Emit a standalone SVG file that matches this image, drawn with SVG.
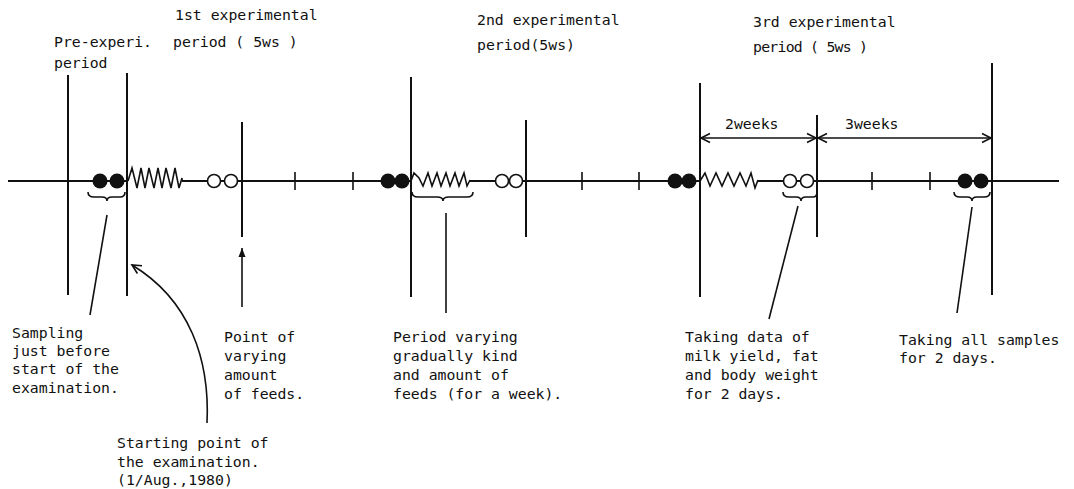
<svg xmlns="http://www.w3.org/2000/svg" width="1074" height="489" viewBox="0 0 1074 489">
<style>
text{font-family:"DejaVu Sans Mono","Liberation Mono",monospace;font-size:14.8px;fill:#111}
.ln{stroke:#111;stroke-width:2;fill:none}
.th{stroke:#111;stroke-width:1.6;fill:none}
.dot{fill:#111}
.ring{fill:#fff;stroke:#111;stroke-width:1.6}
</style>
<defs>
<marker id="open" viewBox="-10 -6 12 12" refX="0" refY="0" markerWidth="12" markerHeight="12" markerUnits="userSpaceOnUse" orient="auto-start-reverse">
<path d="M-9,-4.5 L0,0 L-9,4.5" fill="none" stroke="#111" stroke-width="1.6"/>
</marker>
<marker id="fill" viewBox="-10 -6 12 12" refX="0" refY="0" markerWidth="12" markerHeight="12" markerUnits="userSpaceOnUse" orient="auto">
<path d="M-9,-3.5 L0,0 L-9,3.5 Z" fill="#111"/>
</marker>
</defs>
<rect width="1074" height="489" fill="#fff"/>

<g id="timeline">
<path class="ln" d="M8,181 H128 M182,181 H411 M470,181 H700 M758,181 H1059"/>
<path class="th" d="M128,181 L132,168 L137,188 L141,168 L145,188 L149,168 L154,188 L158,168 L162,188 L166,168 L171,188 L175,168 L179,188 L182,178 L182,181"/>
<path class="th" d="M411,181 L414,173 L419,178 L423,186 L428,173 L432,186 L437,173 L441,186 L446,173 L450,186 L455,173 L459,186 L464,173 L467,186 L470,180"/>
<path class="th" d="M700,181 L705,173 L710,186 L716,173 L722,186 L728,173 L734,186 L740,173 L746,186 L751,173 L755,188 L758,180"/>
<path class="th" d="M295,172 V190 M353,172 V190 M582,172 V190 M639,172 V190 M872,172 V190 M930,172 V190"/>
</g>

<g id="boundaries">
<path class="ln" d="M68,75 V295"/>
<path class="ln" d="M127,73 V296"/>
<path class="ln" d="M242,122 V237"/>
<path class="ln" d="M411,77 V297"/>
<path class="ln" d="M526,120 V237"/>
<path class="ln" d="M700,83 V297"/>
<path class="ln" d="M817,115 V237"/>
<path class="ln" d="M992,63 V295"/>
</g>

<g id="samples">
<circle class="dot" cx="100" cy="181" r="7.5"/><circle class="dot" cx="117" cy="181" r="7.5"/>
<circle class="dot" cx="388" cy="181" r="7.5"/><circle class="dot" cx="402" cy="181" r="7.5"/>
<circle class="dot" cx="675" cy="181" r="7.5"/><circle class="dot" cx="689" cy="181" r="7.5"/>
<circle class="dot" cx="965" cy="181" r="7.5"/><circle class="dot" cx="981" cy="181" r="7.5"/>
<circle class="ring" cx="214" cy="181" r="6.5"/><circle class="ring" cx="231" cy="181" r="6.5"/>
<circle class="ring" cx="502" cy="181" r="6.5"/><circle class="ring" cx="516" cy="181" r="6.5"/>
<circle class="ring" cx="790" cy="181" r="6.5"/><circle class="ring" cx="807" cy="181" r="6.5"/>
</g>

<g id="braces">
<path class="th" d="M88,192 Q88,197 94,197 H102 Q107,197 107,201 Q107,197 112,197 H120 Q125,197 125,192"/>
<path class="th" d="M412,192 Q412,197 418,197 H437 Q443,197 443,201 Q443,197 449,197 H467 Q473,197 473,192"/>
<path class="th" d="M783,192 Q783,197 789,197 H796 Q801,197 801,201 Q801,197 806,197 H813 Q817,197 817,192"/>
<path class="th" d="M954,192 Q954,197 960,197 H967 Q972,197 972,201 Q972,197 977,197 H984 Q990,197 990,192"/>
</g>

<g id="connectors">
<path class="th" d="M107,215 L90,315"/>
<path class="th" d="M446,213 V313"/>
<path class="th" d="M798,206 L769,319"/>
<path class="th" d="M972,207 L957,313"/>
<path class="th" d="M242,307 V248" marker-end="url(#fill)"/>
<path class="th" d="M207,423 C210,360 190,300 132,265" marker-end="url(#open)"/>
<path class="th" d="M701,138 H816" marker-start="url(#open)" marker-end="url(#open)"/>
<path class="th" d="M818,138 H991" marker-start="url(#open)" marker-end="url(#open)"/>
</g>

<g id="period-labels">
<g id="pre"><text x="54" y="47">Pre-experi.</text><text x="54" y="68">period</text></g>
<g id="p1"><text x="175" y="20">1st experimental</text><text x="173" y="47">period ( 5ws )</text></g>
<g id="p2"><text x="477" y="25">2nd experimental</text><text x="477" y="50">period(5ws)</text></g>
<g id="p3"><text x="753" y="27">3rd experimental</text><text x="753" y="52" textLength="115">period ( 5ws )</text></g>
<g id="w2"><text x="725" y="129">2weeks</text></g>
<g id="w3"><text x="845" y="129">3weeks</text></g>
</g>

<g id="annotations">
<g id="a-sampling"><text x="12" y="338">Sampling</text><text x="12" y="356">just before</text><text x="12" y="374">start of the</text><text x="12" y="393">examination.</text></g>
<g id="a-point"><text x="224" y="342">Point of</text><text x="224" y="361">varying</text><text x="224" y="380">amount</text><text x="224" y="399">of feeds.</text></g>
<g id="a-start"><text x="117" y="448">Starting point of</text><text x="117" y="467">the examination.</text><text x="117" y="485">(1/Aug.,1980)</text></g>
<g id="a-period"><text x="393" y="342">Period varying</text><text x="393" y="361">gradually kind</text><text x="393" y="380">and amount of</text><text x="393" y="399">feeds (for a week).</text></g>
<g id="a-taking"><text x="685" y="342">Taking data of</text><text x="685" y="361">milk yield, fat</text><text x="685" y="380">and body weight</text><text x="685" y="399">for 2 days.</text></g>
<g id="a-all"><text x="899" y="345">Taking all samples</text><text x="899" y="363">for 2 days.</text></g>
</g>
</svg>
